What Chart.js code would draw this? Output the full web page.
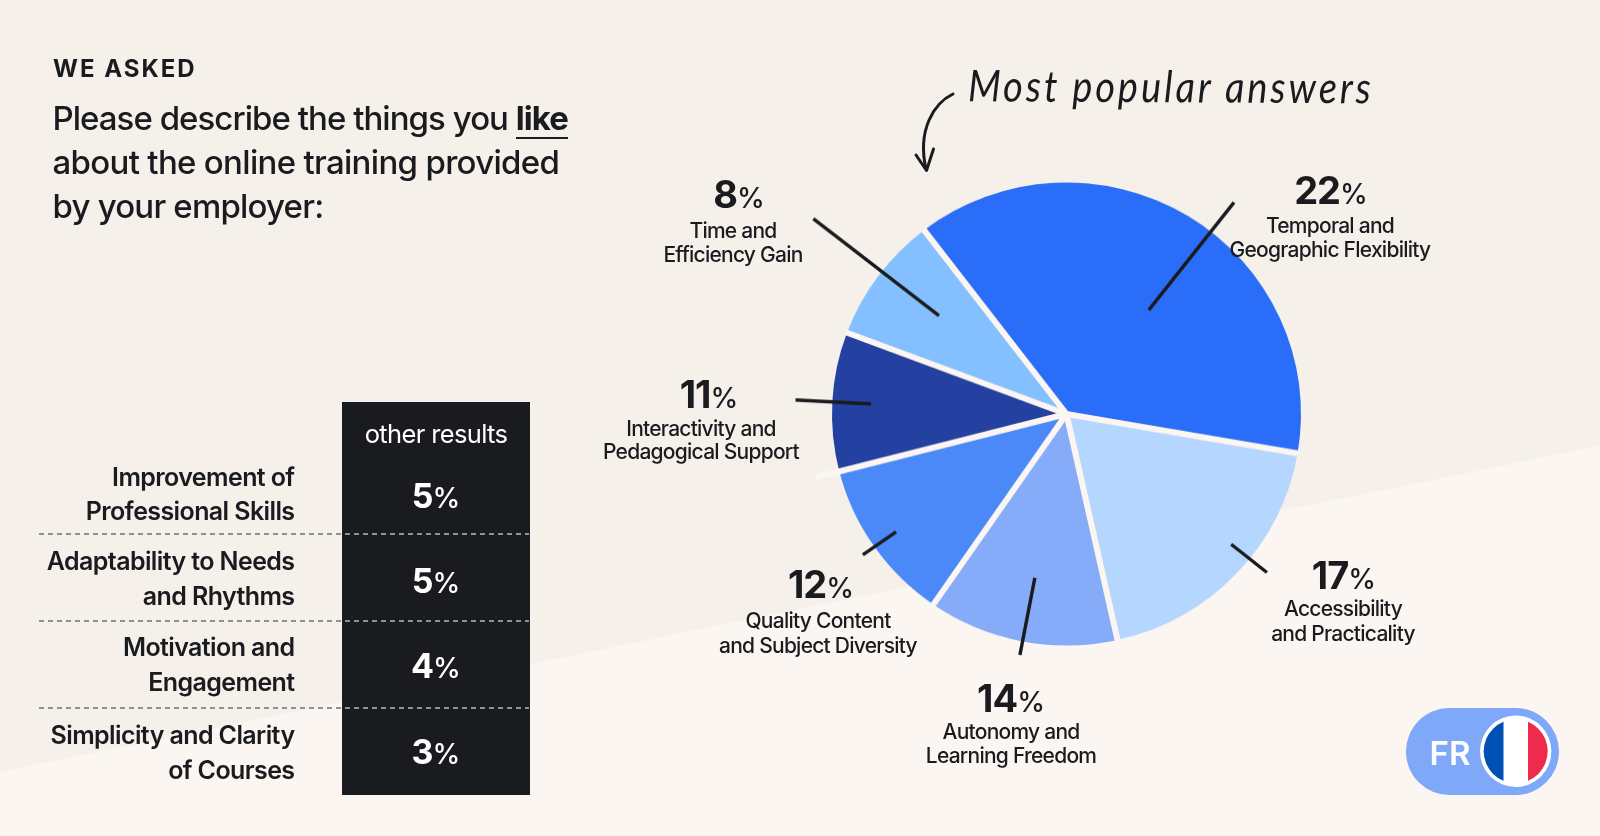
<!DOCTYPE html>
<html>
<head>
<meta charset="utf-8">
<title>Most popular answers</title>
<script src="https://cdn.jsdelivr.net/npm/chart.js@4"></script>
<style>
  html, body { margin: 0; padding: 0; background: #f5f0ea; }
  #page { position: relative; width: 1600px; height: 836px; overflow: hidden; font-family: Inter, sans-serif; color: #1a1b1f; }
  #fundo { position: absolute; left: 0; top: 0; width: 1600px; height: 836px; background: #fbf6f2; clip-path: polygon(0 772px, 1600px 446px, 1600px 836px, 0 836px); }
  /* a pizza do original e um pouco mais larga do que alta */
  #grafico { position: absolute; left: 0; top: 0; transform-origin: 0 414px; transform: scaleY(0.987); }
  #caixa { position: absolute; left: 342px; top: 402px; width: 188px; height: 393px; background: #1a1b1f; }
  .t { position: absolute; line-height: 0; white-space: nowrap; }
  .traco { position: absolute; left: 39px; width: 490px; height: 2px; background: repeating-linear-gradient(90deg, #8f8f9e 0 5px, transparent 5px 9px); }
  #pilula { position: absolute; left: 1406px; top: 708px; width: 153px; height: 87px; border-radius: 44px; background: #7fa8f9; }
  #arco { position: absolute; left: 0; top: 0; }
</style>
</head>
<body>
<div id="page">
  <div id="fundo"></div>
  <div id="caixa"></div>
  <canvas id="grafico" width="1600" height="836"></canvas>
  <svg id="arco" width="1600" height="836" fill="none" stroke="#1a1b1f" stroke-width="3" stroke-linecap="round" stroke-linejoin="round">
    <path d="M953 94 C934 103 917 130 926 169"/>
    <path d="M916 155 L926.5 170.5 L933.5 149"/>
  </svg>
  <div id="pilula"></div>
  <svg style="position:absolute;left:0;top:0" width="1600" height="836">
    <defs><clipPath id="disco"><circle cx="1515.7" cy="751.3" r="32"/></clipPath></defs>
    <circle cx="1515.7" cy="751.3" r="35.7" fill="#ffffff"/>
    <g clip-path="url(#disco)">
      <rect x="1480" y="715" width="23.5" height="72" fill="#0051b4"/>
      <rect x="1528" y="715" width="24" height="72" fill="#ef2b4d"/>
    </g>
  </svg>
</div>
<script>
// respostas principais (fatia) e o que vem escrito em cada uma
const categorias = [
  ['Temporal and', 'Geographic Flexibility'],
  ['Accessibility', 'and Practicality'],
  ['Autonomy and', 'Learning Freedom'],
  ['Quality Content', 'and Subject Diversity'],
  ['Interactivity and', 'Pedagogical Support'],
  ['Time and', 'Efficiency Gain']
];
const percentuais = [22, 17, 14, 12, 11, 8];
// tamanho das fatias, a maior nao acompanha os 22% escritos
const fatias = [38.1, 18.8, 13.1, 11.4, 9.7, 8.9];
const cores = ['#2a6df8', '#b5d7ff', '#86abf9', '#4b89f9', '#2440a0', '#84c0ff'];

const outrasCategorias = [
  ['Improvement of', 'Professional Skills'],
  ['Adaptability to Needs', 'and Rhythms'],
  ['Motivation and', 'Engagement'],
  ['Simplicity and Clarity', 'of Courses']
];
const outrosValores = [5, 5, 4, 3];

// layout, nada de dados aqui
const anguloInicial = -37.4;
const corDivisao = '#fbf6f2';
const alcanceDivisao = [1, 1, 1, 1, 1.1, 1];
const guias = [
  { ang: 38, de: 0.57, ate: 1.16 },
  { ang: 128.7, de: 0.90, ate: 1.095 },
  { ang: 190.8, de: 0.72, ate: 1.06 },
  { ang: 235, de: 0.887, ate: 1.06 },
  { ang: 273, de: 0.835, ate: 1.157 },
  { ang: 308, de: 0.69, ate: 1.37 }
];
const rotulos = [
  { x: 1330, xNum: 1331, num: 204, l1: 233.5, l2: 258 },
  { x: 1343, xNum: 1344, num: 588.5, l1: 617, l2: 642 },
  { x: 1011, xNum: 1011, num: 712, l1: 739.5, l2: 764 },
  { x: 818, xNum: 821, num: 598, l1: 629, l2: 654 },
  { x: 701, xNum: 709, num: 408, l1: 436.5, l2: 460 },
  { x: 733, xNum: 739, num: 208, l1: 239, l2: 263 }
];
const linhasOutras = [[486, 520], [570, 605], [656, 691], [744, 779]];
const basesOutras = [508, 593, 678, 764];
const tracos = [533, 620, 707];

const page = document.getElementById('page');

function texto(str, x, base, tam, peso, alinha, cor, espaco) {
  const el = document.createElement('div');
  el.className = 't';
  el.textContent = str;
  el.style.fontSize = tam + 'px';
  el.style.fontWeight = peso;
  el.style.top = (base - tam * 0.3635) + 'px';
  el.style.left = x + 'px';
  el.style.letterSpacing = (espaco || 0) + 'px';
  if (cor) el.style.color = cor;
  if (alinha === 'center') el.style.transform = 'translateX(-50%)';
  if (alinha === 'right') el.style.transform = 'translateX(-100%)';
  page.appendChild(el);
  return el;
}

function valor(v, x, base, tamNum, tamPct, cor) {
  const el = texto('', x, base, tamNum, 700, 'center', cor, -1);
  el.textContent = v;
  const pct = document.createElement('span');
  pct.textContent = '%';
  pct.style.fontSize = tamPct + 'px';
  pct.style.fontWeight = 500;
  pct.style.letterSpacing = '0';
  el.appendChild(pct);
}

// cabecalho
texto('WE ASKED', 53, 77.5, 24, 700, 'left', null, 2);
const l1 = texto('Please describe the things you ', 52.5, 130, 33, 500, 'left', null, -0.96);
const destaque = document.createElement('span');
destaque.textContent = 'like';
destaque.style.fontWeight = 700;
destaque.style.position = 'relative';
const sublinha = document.createElement('span');
sublinha.style.cssText = 'position:absolute;left:0;right:0;top:39px;height:1.5px;background:#1a1b1f';
destaque.appendChild(sublinha);
l1.appendChild(destaque);
texto('about the online training provided', 52.5, 174, 33, 500, 'left', null, -0.69);
texto('by your employer:', 52.5, 218, 33, 500, 'left', null, -0.8);

// tabela de outros resultados
texto('other results', 436, 443.5, 25.5, 400, 'center', '#ffffff', -0.65);
outrasCategorias.forEach((linhas, i) => {
  texto(linhas[0], 294.5, linhasOutras[i][0], 25, 600, 'right', null, -0.6);
  texto(linhas[1], 294.5, linhasOutras[i][1], 25, 600, 'right', null, -0.6);
  valor(outrosValores[i], 436, basesOutras[i], 34, 28, '#ffffff');
});
tracos.forEach(y => {
  const t = document.createElement('div');
  t.className = 'traco';
  t.style.top = y + 'px';
  page.appendChild(t);
});

// rotulos do grafico
categorias.forEach((linhas, i) => {
  const r = rotulos[i];
  valor(percentuais[i], r.xNum, r.num, 38, 28, null);
  texto(linhas[0], r.x, r.l1, 21, 500, 'center', null, -0.75);
  texto(linhas[1], r.x, r.l2, 21, 500, 'center', null, -0.75);
});

const anotacao = texto('Most popular answers', 968, 98, 38, 400, 'left', null, 2.95);
anotacao.style.fontFamily = 'Lato, sans-serif';
anotacao.style.fontStyle = 'italic';
anotacao.style.transformOrigin = 'left center';
anotacao.style.transform = 'rotate(0.3deg) scaleY(1.15)';

texto('FR', 1450, 764.7, 33, 600, 'center', '#ffffff', 0);

const divisoes = {
  id: 'divisoes',
  afterDatasetsDraw(chart) {
    const ctx = chart.ctx;
    const arcos = chart.getDatasetMeta(0).data;
    ctx.save();
    ctx.strokeStyle = corDivisao;
    ctx.lineWidth = 6;
    arcos.forEach((arco, i) => {
      const raio = arco.outerRadius * alcanceDivisao[i] + 1;
      ctx.beginPath();
      ctx.moveTo(arco.x, arco.y);
      ctx.lineTo(arco.x + Math.cos(arco.startAngle) * raio, arco.y + Math.sin(arco.startAngle) * raio);
      ctx.stroke();
    });
    // guias dos rotulos
    const c = arcos[0];
    ctx.strokeStyle = '#1a1b1f';
    ctx.lineWidth = 3.4;
    guias.forEach(g => {
      const a = (g.ang - 90) * Math.PI / 180;
      ctx.beginPath();
      ctx.moveTo(c.x + Math.cos(a) * c.outerRadius * g.de, c.y + Math.sin(a) * c.outerRadius * g.de);
      ctx.lineTo(c.x + Math.cos(a) * c.outerRadius * g.ate, c.y + Math.sin(a) * c.outerRadius * g.ate);
      ctx.stroke();
    });
    ctx.restore();
  }
};

new Chart(document.getElementById('grafico').getContext('2d'), {
  type: 'pie',
  data: {
    labels: categorias.map(c => c.join(' ')),
    datasets: [{
      data: fatias,
      backgroundColor: cores,
      borderWidth: 0
    }]
  },
  options: {
    responsive: false,
    animation: false,
    rotation: anguloInicial,
    layout: { padding: { left: 832, right: 299, top: 179.5, bottom: 187.5 } },
    plugins: { legend: { display: false }, tooltip: { enabled: false } }
  },
  plugins: [divisoes]
});
</script>
</body>
</html>
